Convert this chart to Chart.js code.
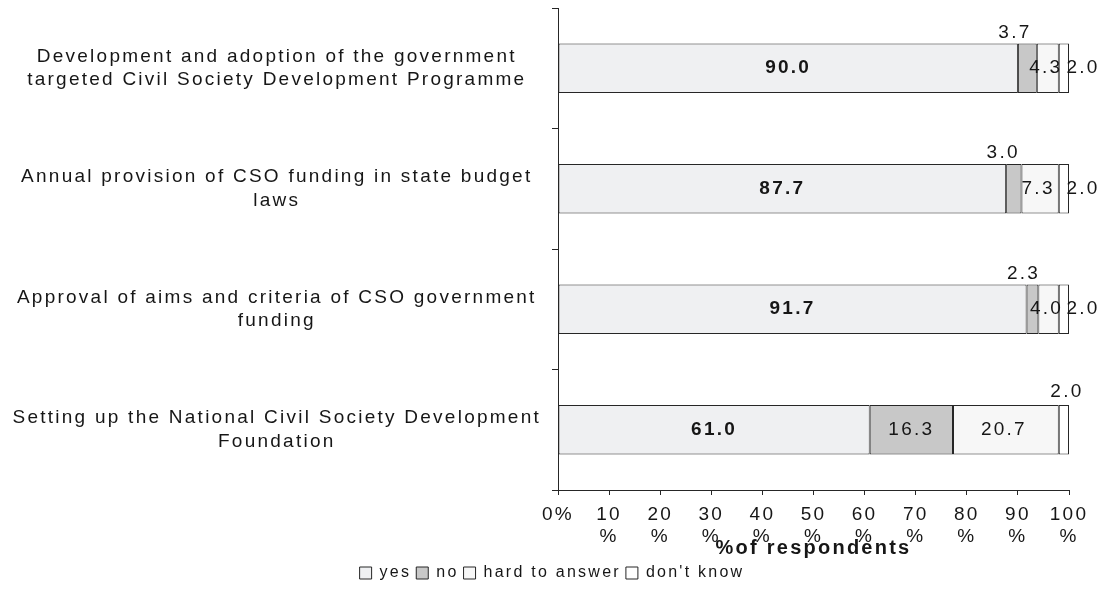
<!DOCTYPE html>
<html>
<head>
<meta charset="utf-8">
<script src="https://cdn.jsdelivr.net/npm/chart.js@4.4.1/dist/chart.umd.min.js"></script>
<style>
  html, body { margin: 0; padding: 0; background: #ffffff; }
  #wrap { position: relative; width: 1104px; height: 597px; }
</style>
</head>
<body>
<div id="wrap"><canvas id="chart"></canvas></div>
<script>
// Survey measures (rows) and answer shares in % of respondents
const categories = [
  ['Development and adoption of the government', 'targeted Civil Society Development Programme'],
  ['Annual provision of CSO funding in state budget', 'laws'],
  ['Approval of aims and criteria of CSO government', 'funding'],
  ['Setting up the National Civil Society Development', 'Foundation']
];
const seriesNames = ['yes', 'no', 'hard to answer', "don't know"];
const yesValues = [90.0, 87.7, 91.7, 61.0];
const noValues = [3.7, 3.0, 2.3, 16.3];
const hardValues = [4.3, 7.3, 4.0, 20.7];
const dontKnowValues = [2.0, 2.0, 2.0, 2.0];
const xTickValues = [0, 10, 20, 30, 40, 50, 60, 70, 80, 90, 100];

// Styling
const FONT = '"Liberation Sans", Arial, sans-serif';
const TEXT = '#161616';
const EDGE = '#262626';
const SPACING = '2.25px';
const fills = ['#eff0f2', '#c8c8c8', '#f7f7f7', '#ffffff'];
// where the "don't know" value sits for each row
const dontKnowLabelPlacement = ['right', 'right', 'right', 'above'];

// wide tracking on all canvas text
const trackingPlugin = {
  id: 'tracking',
  beforeUpdate(chart) { chart.ctx.letterSpacing = SPACING; },
  resize(chart) { chart.ctx.letterSpacing = SPACING; },
  beforeDraw(chart) { chart.ctx.letterSpacing = SPACING; }
};

// centre the legend row on the whole canvas rather than the padded layout box
const legendSpan = {
  id: 'legendSpan',
  afterLayout(chart) {
    if (chart.legend) {
      chart.legend.left = 0;
      chart.legend.right = chart.width;
    }
  }
};

// value labels on the stacked segments
const valueLabels = {
  id: 'valueLabels',
  afterDatasetsDraw(chart) {
    const ctx = chart.ctx;
    ctx.save();
    ctx.letterSpacing = SPACING;
    ctx.fillStyle = TEXT;
    ctx.textBaseline = 'middle';
    chart.data.datasets.forEach((ds, di) => {
      const meta = chart.getDatasetMeta(di);
      meta.data.forEach((bar, i) => {
        const v = ds.data[i];
        const txt = v.toFixed(1);
        const left = Math.min(bar.x, bar.base);
        const right = Math.max(bar.x, bar.base);
        const cx = (left + right) / 2;
        const top = bar.y - bar.height / 2;
        let x = cx, y = bar.y;
        ctx.textAlign = 'center';
        ctx.font = (di === 0 ? 'bold ' : '') + '19px ' + FONT;
        if (di === 1 && v < 10) {
          x = left - 3;
          y = top - 11;
        } else if (di === 2) {
          x = cx - 2;
        } else if (di === 3) {
          if (dontKnowLabelPlacement[i] === 'right') {
            x = right + 14;
          } else {
            x = cx + 3;
            y = top - 13;
          }
        }
        ctx.fillText(txt, x, y);
      });
    });
    ctx.restore();
  }
};

const valueSets = [yesValues, noValues, hardValues, dontKnowValues];

new Chart(document.getElementById('chart'), {
  type: 'bar',
  data: {
    labels: categories,
    datasets: seriesNames.map((name, k) => ({
      label: name,
      data: valueSets[k],
      backgroundColor: fills[k],
      borderColor: EDGE,
      borderWidth: 1,
      borderSkipped: false,
      barPercentage: 0.41,
      categoryPercentage: 1
    }))
  },
  options: {
    indexAxis: 'y',
    responsive: true,
    maintainAspectRatio: false,
    animation: false,
    layout: { padding: { top: 8, right: 35, left: 0, bottom: 6 } },
    scales: {
      x: {
        stacked: true,
        min: 0,
        max: 100,
        afterBuildTicks(scale) { scale.ticks = xTickValues.map(v => ({ value: v })); },
        afterFit(scale) { scale.height = 70; },
        border: { display: true, color: EDGE, width: 1 },
        grid: { drawOnChartArea: false, drawTicks: true, tickLength: 5, color: EDGE },
        ticks: {
          padding: 9,
          color: TEXT,
          maxRotation: 0,
          autoSkip: false,
          font: { family: FONT, size: 19, lineHeight: 1.16 },
          callback: v => (v === 0 ? '0%' : [String(v), '%'])
        },
        title: {
          display: true,
          text: '%of respondents',
          color: TEXT,
          font: { family: FONT, size: 20, weight: 'bold', lineHeight: 1.2 },
          padding: { top: 0, bottom: 0 }
        }
      },
      y: {
        stacked: true,
        afterFit(scale) {
          scale.width = 558;
          scale.paddingTop = 0;
          scale.paddingBottom = 0;
        },
        border: { display: true, color: EDGE, width: 1 },
        grid: { offset: true, drawOnChartArea: false, drawTicks: true, tickLength: 6, color: EDGE },
        ticks: {
          padding: 11,
          crossAlign: 'center',
          color: TEXT,
          autoSkip: false,
          font: { family: FONT, size: 19, lineHeight: 1.22 }
        }
      }
    },
    plugins: {
      legend: {
        position: 'bottom',
        labels: {
          boxWidth: 12,
          boxHeight: 12,
          padding: 5,
          color: TEXT,
          font: { family: FONT, size: 16 }
        }
      },
      tooltip: { enabled: false }
    }
  },
  plugins: [trackingPlugin, legendSpan, valueLabels]
});
</script>
</body>
</html>
